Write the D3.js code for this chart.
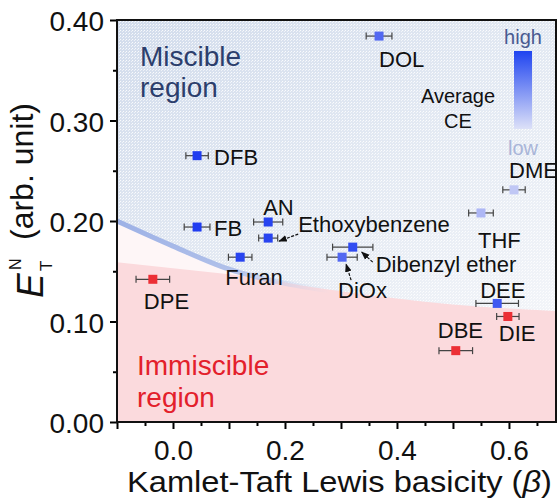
<!DOCTYPE html>
<html>
<head>
<meta charset="utf-8">
<script src="https://cdn.jsdelivr.net/npm/d3@7"></script>
<style>
  body { margin: 0; background: #fff; }
  text { font-family: "Liberation Sans", Arial, sans-serif; }
</style>
</head>
<body>
<svg id="chart" width="557" height="498"></svg>
<script>
// solvent data
const solvents = ["DOL", "DFB", "FB", "AN", "Ethoxybenzene", "Furan", "DPE",
                  "Dibenzyl ether", "DiOx", "THF", "DME", "DEE", "DIE", "DBE"];
const beta    = [0.368, 0.043, 0.043, 0.170, 0.170, 0.120, -0.036, 0.321, 0.302, 0.550, 0.609, 0.579, 0.598, 0.505];
const betaErr = [0.023, 0.020, 0.023, 0.026, 0.017, 0.021, 0.030, 0.036, 0.027, 0.022, 0.020, 0.038, 0.020, 0.030];
const etN     = [0.384, 0.265, 0.194, 0.199, 0.183, 0.164, 0.142, 0.174, 0.164, 0.208, 0.231, 0.118, 0.105, 0.071];
// relative average CE (0 = low, 1 = high), null = immiscible (red)
const avgCE   = [0.72, 1.0, 1.0, 0.95, 0.95, 0.95, null, 0.9, 0.72, 0.22, 0.12, 0.82, null, null];

// region boundaries
const boundaryBeta   = [-0.1, 0.0, 0.1, 0.2, 0.3, 0.4, 0.5, 0.6, 0.7];
const miscibleEdge   = [0.201, 0.176, 0.153, 0.139, 0.130, 0.123, 0.117, 0.113, 0.110];
const immiscibleEdge = [0.159, 0.153, 0.147, 0.140, 0.134, 0.128, 0.122, 0.117, 0.112];

const xTickValues = [-0.1, 0.0, 0.1, 0.2, 0.3, 0.4, 0.5, 0.6];
const xTickLabels = [0.0, 0.2, 0.4, 0.6];
const yTickValues = [0.0, 0.1, 0.2, 0.3, 0.4];

// label placement (px offsets from the marker)
const labelOffset = {
  "DOL": [0, 31], "DFB": [17, 9], "FB": [17, 9], "AN": [-5, -7],
  "Ethoxybenzene": [30, -6], "Furan": [-15, 28], "DPE": [-9, 30],
  "Dibenzyl ether": [23, 25], "DiOx": [-4, 41], "THF": [-3, 35],
  "DME": [-5, -12], "DEE": [-17, -5], "DIE": [-9, 25], "DBE": [-18, -13]
};
// leader arrows: [tailX, tailY, tipX, tipY] relative to the marker
const arrows = {
  "Ethoxybenzene": [30, -4, 11, 3],
  "Dibenzyl ether": [20, 15, 9, 5],
  "DiOx": [9, 23, 4, 7]
};

const svg = d3.select("#chart");
const plotL = 117, plotR = 556, plotT = 20, plotB = 422;

const x = d3.scaleLinear().domain([-0.1, 0.684]).range([plotL, plotR]);
const y = d3.scaleLinear().domain([0, 0.4]).range([plotB, plotT]);

const defs = svg.append("defs");
defs.append("clipPath").attr("id", "plotClip")
  .append("rect").attr("x", plotL).attr("y", plotT)
  .attr("width", plotR - plotL).attr("height", plotB - plotT);

const bg = defs.append("linearGradient").attr("id", "misGrad")
  .attr("x1", 0).attr("y1", 0).attr("x2", 1).attr("y2", 1);
bg.append("stop").attr("offset", "0%").attr("stop-color", "#d2dcec");
bg.append("stop").attr("offset", "55%").attr("stop-color", "#e4eaf3");
bg.append("stop").attr("offset", "100%").attr("stop-color", "#f3f5f9");

const dots = defs.append("pattern").attr("id", "dots")
  .attr("width", 3).attr("height", 3).attr("patternUnits", "userSpaceOnUse");
dots.append("rect").attr("width", 1).attr("height", 1).attr("fill", "#fff").attr("opacity", 0.85);
dots.append("rect").attr("x", 2).attr("y", 1).attr("width", 1).attr("height", 1).attr("fill", "#fff").attr("opacity", 0.6);

const bandGrad = defs.append("linearGradient").attr("id", "bandGrad")
  .attr("gradientUnits", "userSpaceOnUse")
  .attr("x1", plotL).attr("y1", 0).attr("x2", 330).attr("y2", 0);
bandGrad.append("stop").attr("offset", "0%").attr("stop-color", "#9db1e6").attr("stop-opacity", 1);
bandGrad.append("stop").attr("offset", "55%").attr("stop-color", "#a9bbe8").attr("stop-opacity", 0.9);
bandGrad.append("stop").attr("offset", "100%").attr("stop-color", "#c8d4ef").attr("stop-opacity", 0);

const ceGrad = defs.append("linearGradient").attr("id", "ceGrad")
  .attr("x1", 0).attr("y1", 0).attr("x2", 0).attr("y2", 1);
ceGrad.append("stop").attr("offset", "0%").attr("stop-color", "#1f44f0");
ceGrad.append("stop").attr("offset", "100%").attr("stop-color", "#dde1f8");

defs.append("marker").attr("id", "arrowHead")
  .attr("viewBox", "0 0 10 10").attr("refX", 9).attr("refY", 5)
  .attr("markerWidth", 7).attr("markerHeight", 7).attr("orient", "auto")
  .append("path").attr("d", "M0,1 L10,5 L0,9 Z").attr("fill", "#111");

// regions
const plot = svg.append("g").attr("clip-path", "url(#plotClip)");
plot.append("rect").attr("x", plotL).attr("y", plotT)
  .attr("width", plotR - plotL).attr("height", plotB - plotT).attr("fill", "#fef6f7");

const edgePts = boundaryBeta.map((b, i) => ({ b, mis: miscibleEdge[i], imm: immiscibleEdge[i] }));

plot.append("path").datum(edgePts)
  .attr("fill", "#fbdadd")
  .attr("d", d3.area().curve(d3.curveMonotoneX)
    .x(d => x(d.b)).y0(y(0)).y1(d => y(d.imm)));

const misArea = d3.area().curve(d3.curveMonotoneX)
  .x(d => x(d.b)).y0(y(0.4)).y1(d => y(d.mis));
plot.append("path").datum(edgePts).attr("fill", "url(#misGrad)").attr("d", misArea);
plot.append("path").datum(edgePts).attr("fill", "url(#dots)").attr("d", misArea);

plot.append("path").datum(edgePts)
  .attr("fill", "none").attr("stroke", "url(#bandGrad)").attr("stroke-width", 5)
  .attr("d", d3.line().curve(d3.curveMonotoneX).x(d => x(d.b)).y(d => y(d.mis) + 1));

// axes
const xAxis = d3.axisBottom(x)
  .tickValues(xTickValues).tickSize(7).tickPadding(10)
  .tickFormat(d => xTickLabels.some(v => Math.abs(v - d) < 1e-9) ? d3.format(".1f")(d) : "");
const gx = svg.append("g").attr("transform", `translate(0,${plotB})`).call(xAxis);
gx.selectAll(".tick line").attr("stroke-width", 2);
svg.append("g").attr("transform", `translate(0,${plotB})`)
  .call(d3.axisBottom(x).tickValues(d3.range(-0.05, 0.68, 0.1)).tickSize(4).tickFormat(""))
  .selectAll(".tick line").attr("stroke-width", 2);

const yAxis = d3.axisLeft(y).tickValues(yTickValues).tickSize(7).tickPadding(6)
  .tickFormat(d3.format(".2f"));
const gy = svg.append("g").attr("transform", `translate(${plotL},0)`).call(yAxis);
gy.selectAll(".tick line").attr("stroke-width", 2);
svg.append("g").attr("transform", `translate(${plotL},0)`)
  .call(d3.axisLeft(y).tickValues([0.05, 0.15, 0.25, 0.35]).tickSize(4).tickFormat(""))
  .selectAll(".tick line").attr("stroke-width", 2);

svg.selectAll(".domain").remove();
svg.selectAll(".tick text")
  .attr("font-size", 28).attr("fill", "#111")
  .attr("font-family", "'Liberation Sans', Arial, sans-serif");
gy.selectAll(".tick text").attr("dy", "0.38em");
gx.selectAll(".tick text").attr("dy", "0.75em");

svg.append("rect").attr("x", plotL).attr("y", plotT)
  .attr("width", plotR - plotL).attr("height", plotB - plotT)
  .attr("fill", "none").attr("stroke", "#111").attr("stroke-width", 2);

// axis titles
const xt = svg.append("text").attr("x", 127).attr("y", 492)
  .attr("font-size", 30).attr("fill", "#111")
  .attr("textLength", 425).attr("lengthAdjust", "spacingAndGlyphs");
xt.append("tspan").text("Kamlet-Taft Lewis basicity (");
xt.append("tspan").attr("font-style", "italic").text("β");
xt.append("tspan").text(")");

const yt = svg.append("g").attr("transform", "translate(43,298) rotate(-90)");
yt.append("text").attr("x", 0).attr("y", 0).attr("font-size", 37)
  .attr("font-style", "italic").attr("fill", "#111").text("E");
yt.append("text").attr("x", 27).attr("y", 9).attr("font-size", 17).attr("fill", "#111").text("T");
yt.append("text").attr("x", 28).attr("y", -22).attr("font-size", 16).attr("fill", "#111").text("N");
yt.append("text").attr("x", 58).attr("y", -10).attr("font-size", 32).attr("fill", "#111").text("(arb. unit)");

// region labels
svg.append("text").attr("x", 140).attr("y", 66).attr("font-size", 28).attr("fill", "#2c3e6c").text("Miscible");
svg.append("text").attr("x", 140).attr("y", 97).attr("font-size", 28).attr("fill", "#2c3e6c").text("region");
svg.append("text").attr("x", 137).attr("y", 375).attr("font-size", 28).attr("fill", "#e3202b").text("Immiscible");
svg.append("text").attr("x", 137).attr("y", 407).attr("font-size", 28).attr("fill", "#e3202b").text("region");

// CE legend
svg.append("rect").attr("x", 514).attr("y", 51).attr("width", 18).attr("height", 78).attr("fill", "url(#ceGrad)");
svg.append("text").attr("x", 523).attr("y", 44).attr("text-anchor", "middle")
  .attr("font-size", 20).attr("fill", "#4a5a90").text("high");
svg.append("text").attr("x", 523).attr("y", 155).attr("text-anchor", "middle")
  .attr("font-size", 20).attr("fill", "#a9b5d8").text("low");
svg.append("text").attr("x", 458).attr("y", 103).attr("text-anchor", "middle")
  .attr("font-size", 20).attr("fill", "#111").text("Average");
svg.append("text").attr("x", 458).attr("y", 128).attr("text-anchor", "middle")
  .attr("font-size", 20).attr("fill", "#111").text("CE");

// points
const ceColor = d3.interpolateRgb("#d6daf6", "#1f3cf0");
const points = solvents.map((name, i) => ({
  name, b: beta[i], e: etN[i], err: betaErr[i], ce: avgCE[i]
}));

const pg = svg.append("g");
points.forEach(p => {
  const px = x(p.b), py = y(p.e);
  const g = pg.append("g");
  g.append("line").attr("x1", x(p.b - p.err)).attr("x2", x(p.b + p.err))
    .attr("y1", py).attr("y2", py).attr("stroke", "#444").attr("stroke-width", 1.2);
  [p.b - p.err, p.b + p.err].forEach(v => {
    g.append("line").attr("x1", x(v)).attr("x2", x(v))
      .attr("y1", py - 3.5).attr("y2", py + 3.5).attr("stroke", "#444").attr("stroke-width", 1.2);
  });
  g.append("rect").attr("x", px - 4.5).attr("y", py - 4.5).attr("width", 9).attr("height", 9)
    .attr("fill", p.ce === null ? "#ec2f35" : ceColor(p.ce));
  const off = labelOffset[p.name];
  svg.append("text").attr("x", px + off[0]).attr("y", py + off[1])
    .attr("font-size", 22).attr("fill", "#111").text(p.name);
  const a = arrows[p.name];
  if (a) {
    svg.append("line").attr("x1", px + a[0]).attr("y1", py + a[1])
      .attr("x2", px + a[2]).attr("y2", py + a[3])
      .attr("stroke", "#111").attr("stroke-width", 1.2).attr("stroke-dasharray", "3,1.5")
      .attr("marker-end", "url(#arrowHead)");
  }
});
</script>
</body>
</html>
